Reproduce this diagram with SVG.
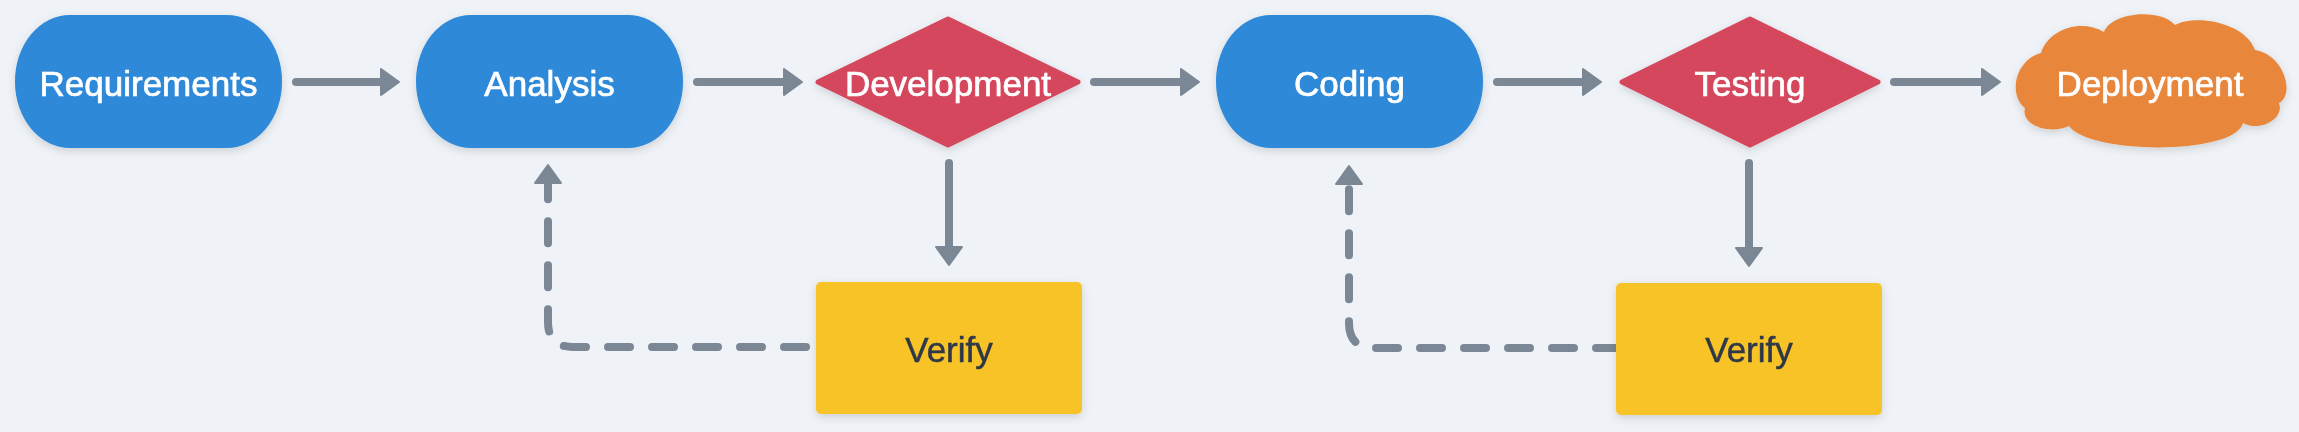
<svg xmlns="http://www.w3.org/2000/svg" width="2299" height="432" viewBox="0 0 2299 432">
<style>
.lbl{font-family:"Liberation Sans",Arial,sans-serif;font-size:35px;text-anchor:middle;}
.w{fill:#ffffff;stroke:#ffffff;stroke-width:0.7px;}
.d{fill:#2d3748;stroke:#2d3748;stroke-width:0.5px;}
.blue{fill:#2e89d9;}
.red{fill:#d4465d;stroke:#d4465d;stroke-width:5;stroke-linejoin:round;}
.orange{fill:#e8863a;}
.yellow{fill:#f7c325;}
.edge{fill:none;stroke:#7b8794;stroke-width:8;stroke-linecap:round;}
.dash{stroke-dasharray:22 22;}
</style>
<defs>
<filter id="sh" x="-20%" y="-20%" width="140%" height="150%">
<feDropShadow dx="0" dy="3" stdDeviation="4" flood-color="#000" flood-opacity="0.14"/>
</filter>
<marker id="ah" markerWidth="5" markerHeight="5" viewBox="0 0 5 5" refX="2.6" refY="2.5" orient="auto" markerUnits="userSpaceOnUse" style="overflow:visible">
<path d="M-7,-13 L11,0 L-7,13 Z" fill="#7b8794" stroke="#7b8794" stroke-width="2" stroke-linejoin="round" transform="translate(2.6,2.5)"/>
</marker>
</defs>
<rect width="2299" height="432" fill="#eff3f7"/>

<g id="connectors">
<path class="edge" d="M296,82 L388,82" marker-end="url(#ah)"/>
<path class="edge" d="M697,82 L791,82" marker-end="url(#ah)"/>
<path class="edge" d="M1094,82 L1188,82" marker-end="url(#ah)"/>
<path class="edge" d="M1497,82 L1590,82" marker-end="url(#ah)"/>
<path class="edge" d="M1894,82 L1989,82" marker-end="url(#ah)"/>
<path class="edge" d="M949,163 L949,254" marker-end="url(#ah)"/>
<path class="edge" d="M1749,163 L1749,255" marker-end="url(#ah)"/>
<path class="edge dash" d="M806,347 L573,347 Q548,347 548,322 L548,176" marker-end="url(#ah)"/>
<path class="edge dash" d="M1618,348 L1374,348 Q1349,348 1349,323 L1349,177" marker-end="url(#ah)"/>
</g>

<g id="n-requirements" filter="url(#sh)">
<rect class="blue" x="15" y="15" width="267" height="133" rx="55" ry="66"/>
<text class="lbl w" x="148.5" y="96">Requirements</text>
</g>
<g id="n-analysis" filter="url(#sh)">
<rect class="blue" x="416" y="15" width="267" height="133" rx="55" ry="66"/>
<text class="lbl w" x="549.5" y="96">Analysis</text>
</g>
<g id="n-development" filter="url(#sh)">
<polygon class="red" points="948,19 1078,82 948,145 818,82"/>
<text class="lbl w" x="948" y="96">Development</text>
</g>
<g id="n-coding" filter="url(#sh)">
<rect class="blue" x="1216" y="15" width="267" height="133" rx="55" ry="66"/>
<text class="lbl w" x="1349.5" y="96">Coding</text>
</g>
<g id="n-testing" filter="url(#sh)">
<polygon class="red" points="1750,19 1878,82 1750,145 1622,82"/>
<text class="lbl w" x="1750" y="96">Testing</text>
</g>
<g id="n-deployment" filter="url(#sh)">
<path class="orange" d="M2041,53 C2048,30 2080,18 2104,32 C2112,12 2160,8 2175,25 C2195,14 2245,22 2255,50 C2285,55 2295,95 2279,103 C2285,120 2258,132 2243,123 C2235,155 2090,155 2069,126 C2050,135 2020,125 2025,108 C2008,95 2015,60 2041,53 Z"/>
<text class="lbl w" x="2150" y="96">Deployment</text>
</g>
<g id="n-verify1" filter="url(#sh)">
<rect class="yellow" x="816" y="282" width="266" height="132" rx="5"/>
<text class="lbl d" x="949" y="362">Verify</text>
</g>
<g id="n-verify2" filter="url(#sh)">
<rect class="yellow" x="1616" y="283" width="266" height="132" rx="5"/>
<text class="lbl d" x="1749" y="362">Verify</text>
</g>
</svg>
